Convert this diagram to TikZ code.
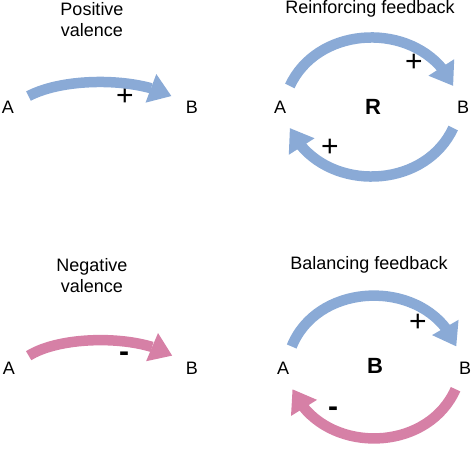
\documentclass[tikz,border=0pt]{standalone}
\usepackage{fontspec}
\setmainfont{Liberation Sans}
\usepackage{tikz}
\usetikzlibrary{arrows.meta, bending}

\definecolor{valblue}{RGB}{138,170,214}
\definecolor{valpink}{RGB}{214,128,166}

\begin{document}
\begin{tikzpicture}[x=1pt, y=1pt,
        caption/.style = {font = {\fontsize{18}{21}\selectfont}, black, align=center},
        var/.style = {circle, minimum size=46pt, inner sep=0pt, font = {\fontsize{18}{21}\selectfont}, black},
        sign/.style = {font = {\fontsize{30}{30}\selectfont}, black},
        loopname/.style = {font = {\fontsize{22}{22}\selectfont\bfseries}, black},
        link/.style = {line width=10.5pt, -{Triangle[length=22pt, width=29pt]}},
    ]
        \useasboundingbox (0, 0) rectangle (474, 453);

        \node[caption] (postitle) at (92, 433) {Positive\\valence};
        \node[var] (pa) at (8, 346) {A};
        \node[var] (pb) at (192, 346) {B};
        \node[sign] (pplus) at (125, 356) {+};
        \draw[link, valblue] (pa) to[out=28, in=152, looseness=0.72] (pb);

        \node[caption] (negtitle) at (92, 177) {Negative\\valence};
        \node[var] (na) at (9, 85) {A};
        \node[var] (nb) at (192, 85) {B};
        \node[sign] (nminus) at (124, 96) {\bfseries -};
        \draw[link, valpink] (na) to[out=32, in=148, looseness=0.7] (nb);

        \node[caption] (reintitle) at (370, 444) {Reinforcing feedback};
        \node[var] (ra) at (280, 346) {A};
        \node[var] (rb) at (463, 346) {B};
        \node[loopname] (rname) at (373, 346) {R};
        \node[sign] (rplustop) at (414, 390) {+};
        \node[sign] (rplusbot) at (330, 305) {+};
        \draw[link, valblue] (ra) to[out=65, in=115, looseness=1.12] (rb);
        \draw[link, valblue] (rb) to[out=-115, in=-65, looseness=1.12] (ra);

        \node[caption] (baltitle) at (369, 188) {Balancing feedback};
        \node[var] (ba) at (283, 85) {A};
        \node[var] (bb) at (465, 85) {B};
        \node[loopname] (bname) at (375, 87) {B};
        \node[sign] (bplus) at (418, 130) {+};
        \node[sign] (bminus) at (333, 41) {\bfseries -};
        \draw[link, valblue] (ba) to[out=68, in=112, looseness=1.14] (bb);
        \draw[link, valpink] (bb) to[out=-114, in=-66, looseness=1.13] (ba);
\end{tikzpicture}
\end{document}
